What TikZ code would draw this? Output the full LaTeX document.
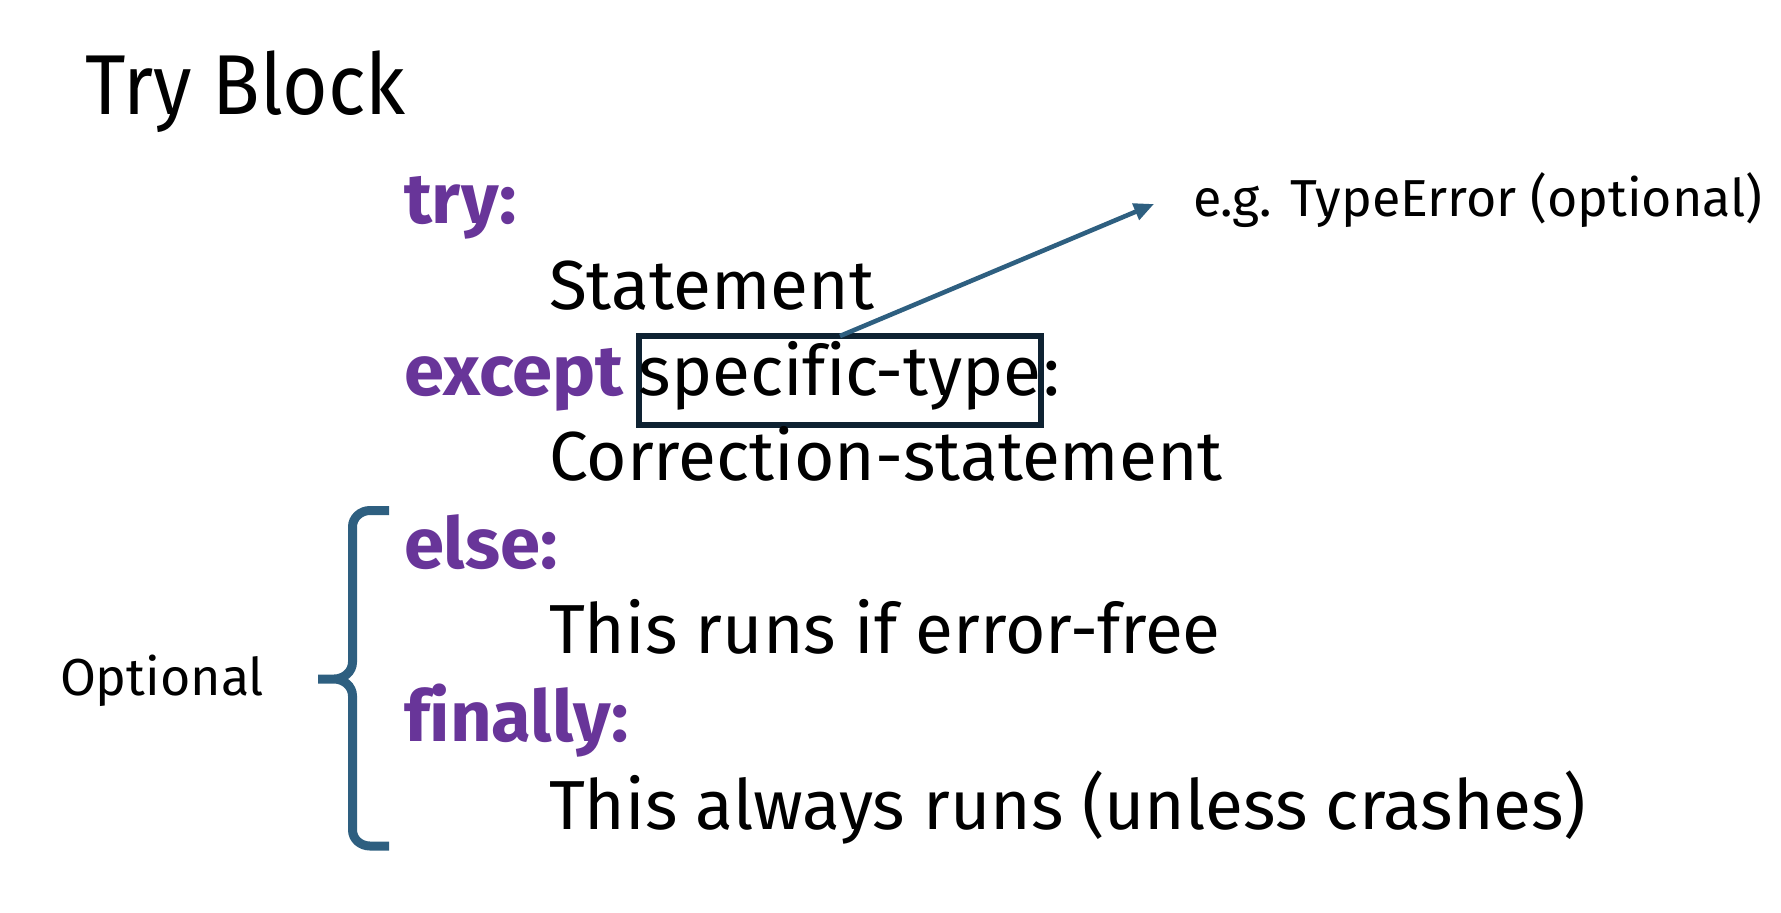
\documentclass[tikz,border=0pt]{standalone}
\usepackage{fontspec}
\setmainfont{Fira Sans}[Ligatures=CommonOff]
\newfontfamily\headfont{Fira Sans}[FakeStretch=0.92, Ligatures=CommonOff]
\newfontfamily\kwfont{Fira Sans}[FakeStretch=1.02, Ligatures=CommonOff]
\usetikzlibrary{arrows.meta}
\definecolor{kw}{HTML}{683599}
\definecolor{accent}{HTML}{2E5F80}
\definecolor{boxline}{HTML}{0E2232}
\begin{document}
\begin{tikzpicture}[x=0.5pt,y=-0.5pt,
  every node/.style={inner sep=0pt, outer sep=0pt, anchor=base west},
  title/.style={font=\headfont\fontsize{42.5}{46}\selectfont},
  code/.style={font=\fontsize{34.7}{38}\selectfont},
  keyword/.style={font=\kwfont\fontsize{35.5}{38}\selectfont\bfseries, text=kw},
  note/.style={font=\fontsize{26}{30}\selectfont},
  typebox/.style={draw=boxline, line width=3pt, anchor=base, minimum width=200pt,
    text height=29.5pt, text depth=15pt, font=\fontsize{34.7}{38}\selectfont},
  pointer/.style={draw=accent, line width=2.3pt, -{Triangle[length=10pt,width=8.5pt]}},
  bracket/.style={draw=accent, line width=4.5pt}
]
\useasboundingbox (0,0) rectangle (1781,912);

% heading
\node[title] (title) at (85,114) {Try Block};

% code lines
\node[keyword] (try) at (404,223) {try:};
\node[code] (stmt) at (549,309) {Statement};
\node[keyword] (except) at (404,395) {except};
\node[typebox] (type) at (840,395) {specific-type};
\node[code] (colon) at ([xshift=1pt]type.base east) {:};
\node[code] (corr) at (549,480) {Correction-statement};
\node[keyword] (else) at (404,568) {else:};
\node[code] (ok) at (549,653) {This runs if error-free};
\node[keyword] (fin) at (404,741) {finally:};
\node[code] (always) at (549,829) {This always runs (unless crashes)};

% annotations
\node[note] (eg) at (1193,216) {e.g. TypeError (optional)};
\node[note] (opt) at (60,695) {Optional};

\coordinate (tip) at (1154,204);
\draw[pointer] (type.north) -- (tip);

% brace around the optional clauses
\draw[bracket] (389,510.5) -- (370,510.5) to[out=180,in=90] (352.5,527)
  -- (352.5,662) to[out=-90,in=0] (334,679) -- (318,679)
  (334,679) to[out=0,in=90] (352.5,696)
  -- (352.5,830) to[out=-90,in=180] (370,846) -- (389,846);
\end{tikzpicture}
\end{document}
